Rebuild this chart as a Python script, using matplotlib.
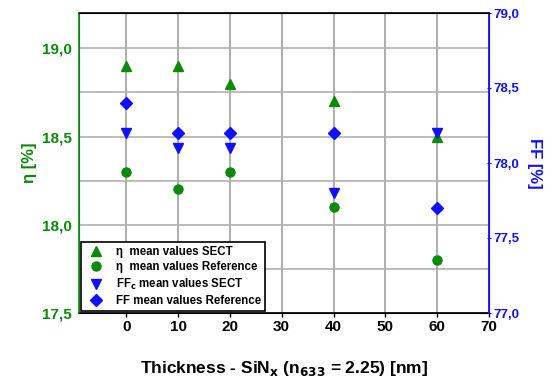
import matplotlib
matplotlib.use("Agg")
import matplotlib.pyplot as plt
from matplotlib.ticker import MultipleLocator, FuncFormatter

plt.rcParams['font.family'] = ['Liberation Sans', 'DejaVu Sans']
plt.rcParams['font.weight'] = 'bold'
plt.rcParams['mathtext.default'] = 'bf'

thickness = [0, 10, 20, 40, 60]
eta_sect = [18.9, 18.9, 18.8, 18.7, 18.5]
eta_ref = [18.3, 18.2, 18.3, 18.1, 17.8]
ffc_sect = [78.2, 78.1, 78.1, 77.8, 78.2]
ff_ref = [78.4, 78.2, 78.2, 78.2, 77.7]

x_ticks = [0, 10, 20, 30, 40, 50, 60, 70]
left_ticks = [17.5, 18.0, 18.5, 19.0]
right_ticks = [77.0, 77.5, 78.0, 78.5, 79.0]

GREEN = '#0a8a0a'
BLUE = '#1010ff'

fig = plt.figure(figsize=(5.53, 3.83), dpi=100)
ax = fig.add_axes([79/553, 1 - 313/383, (489-79)/553, (313-13)/383])
ax2 = ax.twinx()

ax.set_xlim(-9.1, 70)
ax.set_ylim(17.5, 19.2)
ax2.set_ylim(77.0, 79.0)

ax.set_xticks(x_ticks)
ax.set_yticks(left_ticks)
ax.yaxis.set_minor_locator(MultipleLocator(0.25))
ax2.set_yticks(right_ticks)

comma = FuncFormatter(lambda v, p: f"{v:.1f}".replace('.', ','))
ax.yaxis.set_major_formatter(comma)
ax2.yaxis.set_major_formatter(comma)

ax.grid(True, which='major', axis='x', color='#a0a0a0', lw=1.2)
ax.grid(True, which='both', axis='y', color='#b0b0b0', lw=1.2)
ax.set_axisbelow(True)

h1, = ax.plot(thickness, eta_sect, linestyle='none', marker='^', ms=7.5, color=GREEN, zorder=3)
h2, = ax.plot(thickness, eta_ref, linestyle='none', marker='o', ms=6.5, color=GREEN, zorder=3)
h3, = ax2.plot(thickness, ffc_sect, linestyle='none', marker='v', ms=7.5, color=BLUE, zorder=3)
h4, = ax2.plot(thickness, ff_ref, linestyle='none', marker='D', ms=6, color=BLUE, zorder=3)

for s in ['top', 'bottom']:
    ax.spines[s].set_color('black')
    ax.spines[s].set_linewidth(1.2)
ax2.spines['left'].set_color(GREEN)
ax2.spines['right'].set_color(BLUE)
ax2.spines['left'].set_linewidth(1.2)
ax2.spines['right'].set_linewidth(1.2)
ax.spines['left'].set_color(GREEN)
ax.spines['right'].set_color(BLUE)

ax.tick_params(axis='x', labelsize=11, length=3, direction='out', width=1, pad=2)
ax.tick_params(axis='y', which='major', labelsize=11, colors=GREEN, length=0, pad=5)
ax.tick_params(axis='y', which='minor', length=0)
ax2.tick_params(axis='y', labelsize=9.5, colors=BLUE, length=3, direction='inout', pad=2)
for lbl in ax.get_xticklabels() + ax.get_yticklabels() + ax2.get_yticklabels():
    lbl.set_fontweight('bold')

ax.set_ylabel('η [%]', color=GREEN, fontsize=12, fontweight='bold', labelpad=4)
ax2.set_ylabel('FF [%]', color=BLUE, fontsize=12, fontweight='bold', rotation=270, labelpad=16)
ax.set_xlabel(r'Thickness - SiN$_\mathbf{x}$ (n$_\mathbf{633}$ = 2.25) [nm]', fontsize=12.5,
              fontweight='bold', labelpad=18)

leg = ax2.legend([h1, h2, h3, h4],
                 ['η  mean values SECT', 'η  mean values Reference',
                  r'FF$_\mathbf{c}$ mean values SECT', 'FF mean values Reference'],
                 loc='lower left', bbox_to_anchor=(0.0, 0.0),
                 frameon=True, fancybox=False, edgecolor='black', framealpha=1,
                 borderpad=0.35, labelspacing=0.3, handletextpad=0.7, borderaxespad=0.15,
                 prop={'weight': 'bold', 'size': 8.3})
leg.get_frame().set_linewidth(1.2)

fig.savefig('out.png', dpi=100)
